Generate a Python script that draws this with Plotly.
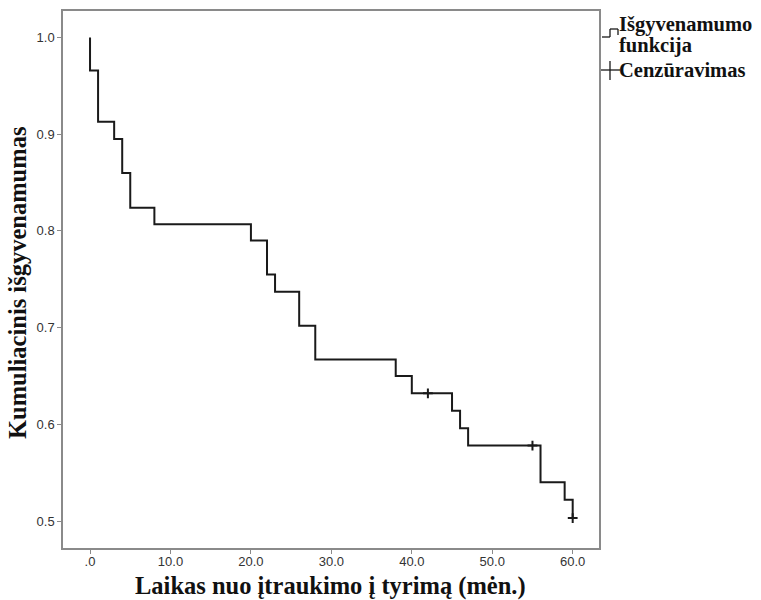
import plotly.graph_objects as go

# Kaplan-Meier step data (time in months, cumulative survival)
event_times = [0, 1, 3, 4, 5, 8, 20, 22, 23, 26, 28, 38, 40, 45, 46, 47, 56, 59, 60]
survival = [0.966, 0.913, 0.895, 0.860, 0.824, 0.807, 0.790, 0.755, 0.737, 0.702,
            0.667, 0.650, 0.632, 0.614, 0.596, 0.578, 0.540, 0.522, 0.503]
start_time = 0
start_survival = 1.0

# Censored observations
censor_times = [42, 55, 60]
censor_survival = [0.632, 0.578, 0.503]

x_ticks = [0, 10, 20, 30, 40, 50, 60]
x_tick_labels = [".0", "10.0", "20.0", "30.0", "40.0", "50.0", "60.0"]
y_ticks = [0.5, 0.6, 0.7, 0.8, 0.9, 1.0]
y_tick_labels = ["0.5", "0.6", "0.7", "0.8", "0.9", "1.0"]

x_title = "Laikas nuo įtraukimo į tyrimą (mėn.)"
y_title = "Kumuliacinis išgyvenamumas"

serif = "Liberation Serif, Times New Roman, serif"
sans = "Liberation Sans, Arial, sans-serif"
frame = "#8a8a8a"

fig = go.Figure()
fig.add_trace(go.Scatter(
    x=[start_time] + event_times,
    y=[start_survival] + survival,
    mode="lines",
    line=dict(shape="hv", color="#1a1a1a", width=2),
    showlegend=False,
    hoverinfo="skip",
))
fig.add_trace(go.Scatter(
    x=censor_times,
    y=censor_survival,
    mode="markers",
    marker=dict(symbol="cross-thin", size=7, line=dict(color="#1a1a1a", width=2)),
    showlegend=False,
    hoverinfo="skip",
))

axis_common = dict(
    showline=True, linecolor=frame, linewidth=1.5, mirror=True,
    ticks="outside", ticklen=4, tickcolor=frame, tickwidth=1,
    showgrid=False, zeroline=False, automargin=False,
    tickfont=dict(family=sans, size=13, color="#333333"),
)

fig.update_layout(
    width=761, height=600,
    margin=dict(l=63, r=162, t=11, b=52),
    paper_bgcolor="white", plot_bgcolor="white",
    xaxis=dict(range=[-3.36, 63.27], tickvals=x_ticks, ticktext=x_tick_labels,
               ticklabelstandoff=-3, **axis_common),
    yaxis=dict(range=[0.4721, 1.0274], tickvals=y_ticks, ticktext=y_tick_labels,
               **axis_common),
)

# Pixel helpers for items placed around the plot frame
def px_x(px):
    return (px - 63) / (599 - 63)

def px_y(py):
    return 1 - (py - 11) / (548 - 11)

# Axis titles
title_font = dict(family=serif, size=24.5, color="#111111")
fig.add_annotation(xref="paper", yref="paper", x=px_x(330), y=px_y(586),
                   text=f"<b>{x_title}</b>", showarrow=False,
                   xanchor="center", yanchor="middle", font=title_font)
fig.add_annotation(xref="paper", yref="paper", x=px_x(17), y=px_y(283),
                   text=f"<b>{y_title}</b>", showarrow=False, textangle=-90,
                   xanchor="center", yanchor="middle", font=title_font)

# Legend drawn beside the plot frame
legend_line = dict(color="#1a1a1a", width=1.3)
step_pts = [(602, 37), (610, 37), (610, 29), (618, 29), (618, 35)]
for (x0, y0), (x1, y1) in zip(step_pts[:-1], step_pts[1:]):
    fig.add_shape(type="line", xref="paper", yref="paper",
                  x0=px_x(x0), y0=px_y(y0), x1=px_x(x1), y1=px_y(y1), line=legend_line)
fig.add_shape(type="line", xref="paper", yref="paper",
              x0=px_x(601), y0=px_y(70), x1=px_x(620), y1=px_y(70), line=legend_line)
fig.add_shape(type="line", xref="paper", yref="paper",
              x0=px_x(610), y0=px_y(61), x1=px_x(610), y1=px_y(80), line=legend_line)

legend_font = dict(family=serif, size=20.5, color="#111111")
fig.add_annotation(xref="paper", yref="paper", x=px_x(617), y=px_y(24),
                   text="<b>Išgyvenamumo</b>", showarrow=False,
                   xanchor="left", yanchor="middle", font=legend_font)
fig.add_annotation(xref="paper", yref="paper", x=px_x(617), y=px_y(46),
                   text="<b>funkcija</b>", showarrow=False,
                   xanchor="left", yanchor="middle", font=legend_font)
fig.add_annotation(xref="paper", yref="paper", x=px_x(617), y=px_y(70),
                   text="<b>Cenzūravimas</b>", showarrow=False,
                   xanchor="left", yanchor="middle", font=legend_font)

fig.write_html("out.html")
